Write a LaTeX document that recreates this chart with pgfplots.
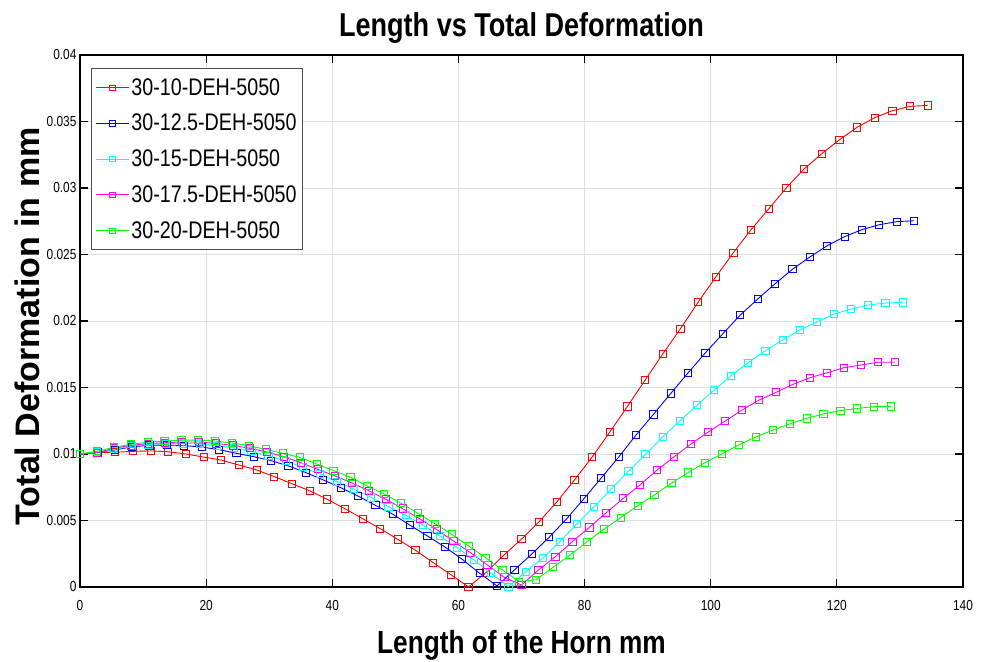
\documentclass[border=0pt]{standalone}
\usepackage{pgfplots}
\usepackage{pgfplotstable}
\pgfplotsset{compat=1.18}
\usepackage{fontspec}
\setmainfont{Liberation Sans}[FakeStretch=0.82]
\newfontfamily\widefont{Liberation Sans}

% Total deformation along the horn, one table per horn variant
\pgfplotstableread{
x y
0 0.0100
2.8 0.0101
5.6 0.01013
8.4 0.0102
11.2 0.01023
14 0.01017
16.8 0.0100
19.6 0.00977
22.4 0.00954
25.2 0.00917
28 0.0088
30.8 0.0083
33.6 0.00777
36.4 0.00724
39.2 0.00659
42 0.00589
44.8 0.00514
47.6 0.00439
50.4 0.00358
53.2 0.00276
56 0.00183
58.8 0.00093
61.6 0.0000
64.4 0.0011
67.2 0.0024
70 0.0036
72.8 0.00491
75.6 0.0064
78.4 0.00805
81.2 0.00977
84 0.01165
86.8 0.01358
89.6 0.01556
92.4 0.01752
95.2 0.01942
98 0.02141
100.8 0.02331
103.6 0.02514
106.4 0.02687
109.2 0.02844
112 0.03002
114.8 0.03143
117.6 0.03258
120.4 0.03363
123.2 0.03456
126 0.03529
128.8 0.03581
131.6 0.03614
134.4 0.03621
}\tabA

\pgfplotstableread{
x y
0 0.0100
2.755 0.01013
5.51 0.0103
8.265 0.01055
11.02 0.01065
13.775 0.01068
16.53 0.01063
19.285 0.01052
22.04 0.01033
24.795 0.01005
27.55 0.0098
30.305 0.0095
33.06 0.0091
35.815 0.0086
38.57 0.00805
41.325 0.00747
44.08 0.00684
46.835 0.00614
49.59 0.00547
52.345 0.00464
55.1 0.00383
57.855 0.00301
60.61 0.00208
63.365 0.00103
66.12 0.00008
68.875 0.00128
71.63 0.00248
74.385 0.00374
77.14 0.00512
79.895 0.00664
82.65 0.0082
85.405 0.00977
88.16 0.01143
90.915 0.01298
93.67 0.01456
96.425 0.01611
99.18 0.01762
101.935 0.01905
104.69 0.02045
107.445 0.02165
110.2 0.0228
112.955 0.02389
115.71 0.02481
118.465 0.02566
121.22 0.02634
123.975 0.02687
126.73 0.02724
129.485 0.02747
132.24 0.02754
}\tabB

\pgfplotstableread{
x y
0 0.0100
2.717 0.01013
5.434 0.01035
8.151 0.0106
10.868 0.01072
13.585 0.01078
16.302 0.0108
19.019 0.01075
21.736 0.01063
24.453 0.01045
27.17 0.0102
29.887 0.00987
32.604 0.00948
35.321 0.009
38.038 0.0085
40.755 0.00792
43.472 0.00735
46.189 0.00674
48.906 0.00604
51.623 0.00541
54.34 0.00466
57.057 0.00383
59.774 0.00298
62.491 0.00203
65.208 0.00103
67.925 0.00002
70.642 0.00115
73.359 0.00216
76.076 0.00341
78.793 0.00475
81.51 0.00604
84.227 0.00737
86.944 0.0087
89.661 0.00998
92.378 0.01128
95.095 0.01248
97.812 0.01366
100.529 0.01481
103.246 0.01589
105.963 0.01687
108.68 0.01777
111.397 0.01857
114.114 0.01933
116.831 0.01992
119.548 0.02053
122.265 0.0209
124.982 0.0212
127.699 0.02135
130.416 0.0214
}\tabC

\pgfplotstableread{
x y
0 0.0100
2.692 0.0101
5.384 0.01043
8.076 0.01065
10.768 0.01078
13.46 0.01085
16.152 0.0109
18.844 0.0109
21.536 0.0108
24.228 0.01065
26.92 0.01043
29.612 0.01015
32.304 0.0098
34.996 0.00935
37.688 0.00885
40.38 0.00836
43.072 0.00783
45.764 0.00725
48.456 0.0066
51.148 0.0059
53.84 0.00513
56.532 0.00432
59.224 0.00345
61.916 0.00258
64.608 0.00165
67.3 0.00073
69.992 0.00015
72.684 0.00128
75.376 0.00228
78.068 0.00341
80.76 0.00448
83.452 0.00559
86.144 0.00667
88.836 0.00769
91.528 0.0088
94.22 0.0098
96.912 0.01077
99.604 0.01165
102.296 0.01248
104.988 0.01331
107.68 0.01406
110.372 0.01464
113.064 0.01524
115.756 0.01574
118.448 0.01611
121.14 0.01649
123.832 0.01669
126.524 0.0169
129.216 0.0169
}\tabD

\pgfplotstableread{
x y
0 0.0100
2.679 0.0102
5.358 0.0105
8.037 0.01073
10.716 0.01088
13.395 0.01098
16.074 0.01103
18.753 0.01105
21.432 0.01098
24.111 0.01082
26.79 0.01062
29.469 0.01035
32.148 0.01005
34.827 0.00975
37.506 0.00925
40.185 0.00875
42.864 0.00825
45.543 0.00759
48.222 0.00699
50.901 0.00629
53.58 0.00554
56.259 0.00476
58.938 0.00396
61.617 0.00308
64.296 0.0022
66.975 0.00128
69.654 0.0004
72.333 0.00055
75.012 0.00148
77.691 0.0024
80.37 0.0034
83.049 0.00434
85.728 0.00521
88.407 0.00611
91.086 0.00692
93.765 0.0078
96.444 0.00862
99.123 0.00935
101.802 0.01002
104.481 0.0107
107.16 0.01128
109.839 0.0118
112.518 0.01226
115.197 0.01268
117.876 0.01301
120.555 0.01326
123.234 0.01343
125.913 0.01356
128.592 0.01358
}\tabE

\begin{document}
\begin{tikzpicture}[x=1pt,y=1pt]
\useasboundingbox (0,0) rectangle (989,662);
\begin{axis}[
  at={(80pt,75pt)}, anchor=south west,
  scale only axis, width=883pt, height=532pt,
  xmin=0, xmax=140, ymin=0, ymax=0.04,
  xtick={0,20,40,60,80,100,120,140},
  ytick={0,0.005,0.01,0.015,0.02,0.025,0.03,0.035,0.04},
  scaled y ticks=false,
  yticklabel style={/pgf/number format/fixed, /pgf/number format/precision=3},
  /pgf/number format/assume math mode=true,
  tick label style={font=\fontsize{14.5}{16}\selectfont},
  xticklabel style={yshift=-10pt},
  tick align=inside, major tick length=8pt,
  tick style={black, line width=1.2pt},
  grid=major, grid style={black!13, line width=1pt},
  axis line style={line width=2.2pt},
  title={Length vs Total Deformation},
  title style={font=\bfseries\fontsize{33}{35}\selectfont, at={(0.5,1.040)}, anchor=center},
  xlabel={Length of the Horn mm},
  xlabel style={font=\bfseries\fontsize{32}{34}\selectfont, at={(0.5,-0.11)}, anchor=center},
  ylabel={Total Deformation in mm},
  ylabel style={font=\widefont\bfseries\fontsize{34}{36}\selectfont, at={(-0.060,0.49)}, anchor=center},
  legend cell align=left,
  legend style={at={(0.0125,0.9756)}, anchor=north west, draw=black!70, line width=1pt,
    font=\fontsize{24}{26}\selectfont, row sep=13.5pt, inner xsep=4pt, inner ysep=8pt},
  legend image code/.code={\draw[mark repeat=2,mark phase=2,mark size=2.6pt]
    plot coordinates {(0pt,0pt) (16.5pt,0pt) (33pt,0pt)};},
  every axis plot/.append style={line width=0.9pt, mark=square, mark size=3.6pt,
    mark options={solid, line width=0.9pt}},
]
\addplot[color={rgb,255:red,255;green,0;blue,0}] table {\tabA};
\addlegendentry{30-10-DEH-5050}
\addplot[color={rgb,255:red,0;green,0;blue,255}] table {\tabB};
\addlegendentry{30-12.5-DEH-5050}
\addplot[color={rgb,255:red,0;green,255;blue,255}] table {\tabC};
\addlegendentry{30-15-DEH-5050}
\addplot[color={rgb,255:red,255;green,0;blue,255}] table {\tabD};
\addlegendentry{30-17.5-DEH-5050}
\addplot[color={rgb,255:red,0;green,255;blue,0}] table {\tabE};
\addlegendentry{30-20-DEH-5050}
\end{axis}
\end{tikzpicture}
\end{document}
